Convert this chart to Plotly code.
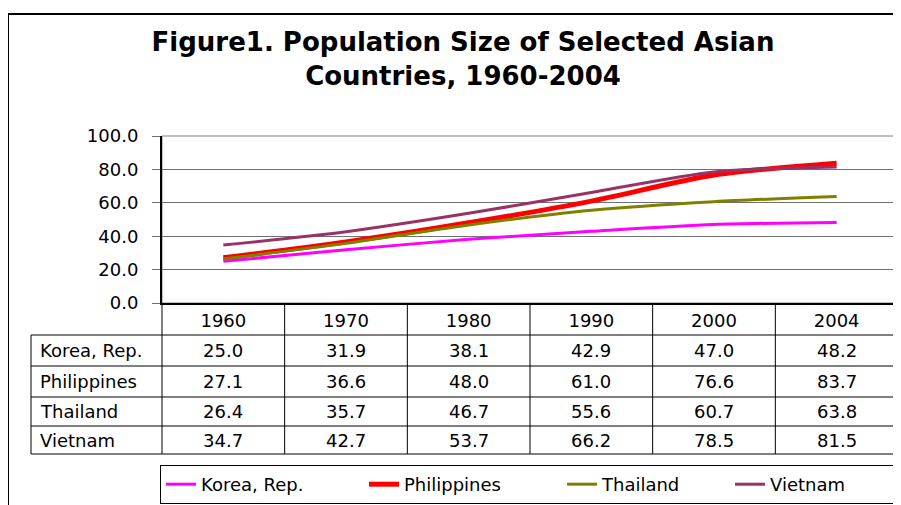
import plotly.graph_objects as go

# ---- data ----
years = ["1960", "1970", "1980", "1990", "2000", "2004"]
countries = ["Korea, Rep.", "Philippines", "Thailand", "Vietnam"]
korea = [25.0, 31.9, 38.1, 42.9, 47.0, 48.2]
philippines = [27.1, 36.6, 48.0, 61.0, 76.6, 83.7]
thailand = [26.4, 35.7, 46.7, 55.6, 60.7, 63.8]
vietnam = [34.7, 42.7, 53.7, 66.2, 78.5, 81.5]
y_ticks = [0, 20, 40, 60, 80, 100]

series = [korea, philippines, thailand, vietnam]
colors = ["#FF00FF", "#FF0000", "#808000", "#993366"]
widths = [3, 5, 3, 3]
legend_widths = [158, 153, 123, 123]

FONT = "DejaVu Sans"
# page body has an 8px margin: figure is drawn 8px right/down of the window origin
OFF = 8
W, H = 901 - OFF, 505 - OFF
# plot area in window pixels
L, R, T, B = 162, 898, 136, 303
PW, PH = R - L, B - T


def px(x):
    return (x - L) / PW


def py(y):
    return (B - y) / PH


fig = go.Figure()
for name, vals, c, w, lw in zip(countries, series, colors, widths, legend_widths):
    fig.add_trace(go.Scatter(
        x=years, y=vals, name=name, mode="lines",
        line=dict(color=c, width=w, shape="spline", smoothing=0.8),
        legendwidth=lw, hoverinfo="skip",
    ))

shapes = []
# outer frame (top and left)
shapes.append(dict(type="line", xref="paper", yref="paper", x0=px(8), x1=px(905),
                   y0=py(14), y1=py(14), line=dict(color="black", width=2)))
shapes.append(dict(type="line", xref="paper", yref="paper", x0=px(8), x1=px(8),
                   y0=py(14), y1=py(510), line=dict(color="black", width=2)))
# plot area border (gray)
shapes.append(dict(type="rect", xref="paper", yref="paper", x0=0, x1=1, y0=0, y1=1,
                   line=dict(color="#808080", width=1), layer="below"))

# data table grid
n = len(years)
row_tops = [335, 366, 397, 426, 454]
for k in range(n + 1):
    shapes.append(dict(type="line", xref="paper", yref="paper", x0=k / n, x1=k / n,
                       y0=0, y1=py(row_tops[-1]), line=dict(color="black", width=1)))
for yy in row_tops:
    shapes.append(dict(type="line", xref="paper", yref="paper", x0=px(31), x1=1,
                       y0=py(yy), y1=py(yy), line=dict(color="black", width=1)))
shapes.append(dict(type="line", xref="paper", yref="paper", x0=px(31), x1=px(31),
                   y0=py(row_tops[0]), y1=py(row_tops[-1]), line=dict(color="black", width=1)))

annotations = []
for r, (name, vals) in enumerate(zip(countries, series)):
    yc = py((row_tops[r] + row_tops[r + 1]) / 2)
    annotations.append(dict(xref="paper", yref="paper", x=px(38), y=yc, text=name,
                            showarrow=False, xanchor="left", yanchor="middle",
                            font=dict(family=FONT, size=18, color="black")))
    for i, v in enumerate(vals):
        annotations.append(dict(xref="paper", yref="paper", x=(i + 0.5) / n, y=yc,
                                text=f"{v:.1f}", showarrow=False, xanchor="center",
                                yanchor="middle",
                                font=dict(family=FONT, size=18, color="black")))

fig.update_layout(
    width=W, height=H,
    margin=dict(l=L - OFF, r=(W + OFF) - R, t=T - OFF, b=(H + OFF) - B, pad=0,
                autoexpand=False),
    paper_bgcolor="white", plot_bgcolor="white",
    title=dict(text="Figure1. Population Size of Selected Asian<br>Countries, 1960-2004",
               x=(463 - OFF) / W, xanchor="center", y=1 - 43 / H, yanchor="top",
               font=dict(family=FONT, size=26, color="black", weight="bold")),
    xaxis=dict(type="category", range=[-0.5, n - 0.5], showgrid=False,
               showline=True, linecolor="black", linewidth=2, ticks="",
               tickfont=dict(family=FONT, size=18, color="black"),
               ticklabelstandoff=0, fixedrange=True),
    yaxis=dict(range=[0, 100], tickvals=y_ticks, tickformat=".1f",
               showgrid=True, gridcolor="#707070", gridwidth=1,
               showline=True, linecolor="black", linewidth=2,
               ticks="outside", ticklen=8, tickcolor="#707070", tickwidth=1,
               tickfont=dict(family=FONT, size=18, color="black"),
               ticklabelstandoff=10, zeroline=False, fixedrange=True),
    showlegend=True,
    legend=dict(orientation="h", x=px(160), y=py(504), xanchor="left", yanchor="bottom",
                bordercolor="black", borderwidth=1, bgcolor="white",
                font=dict(family=FONT, size=18, color="black"),
                tracegroupgap=0),
    shapes=shapes, annotations=annotations,
)

fig.write_html("out.html")
